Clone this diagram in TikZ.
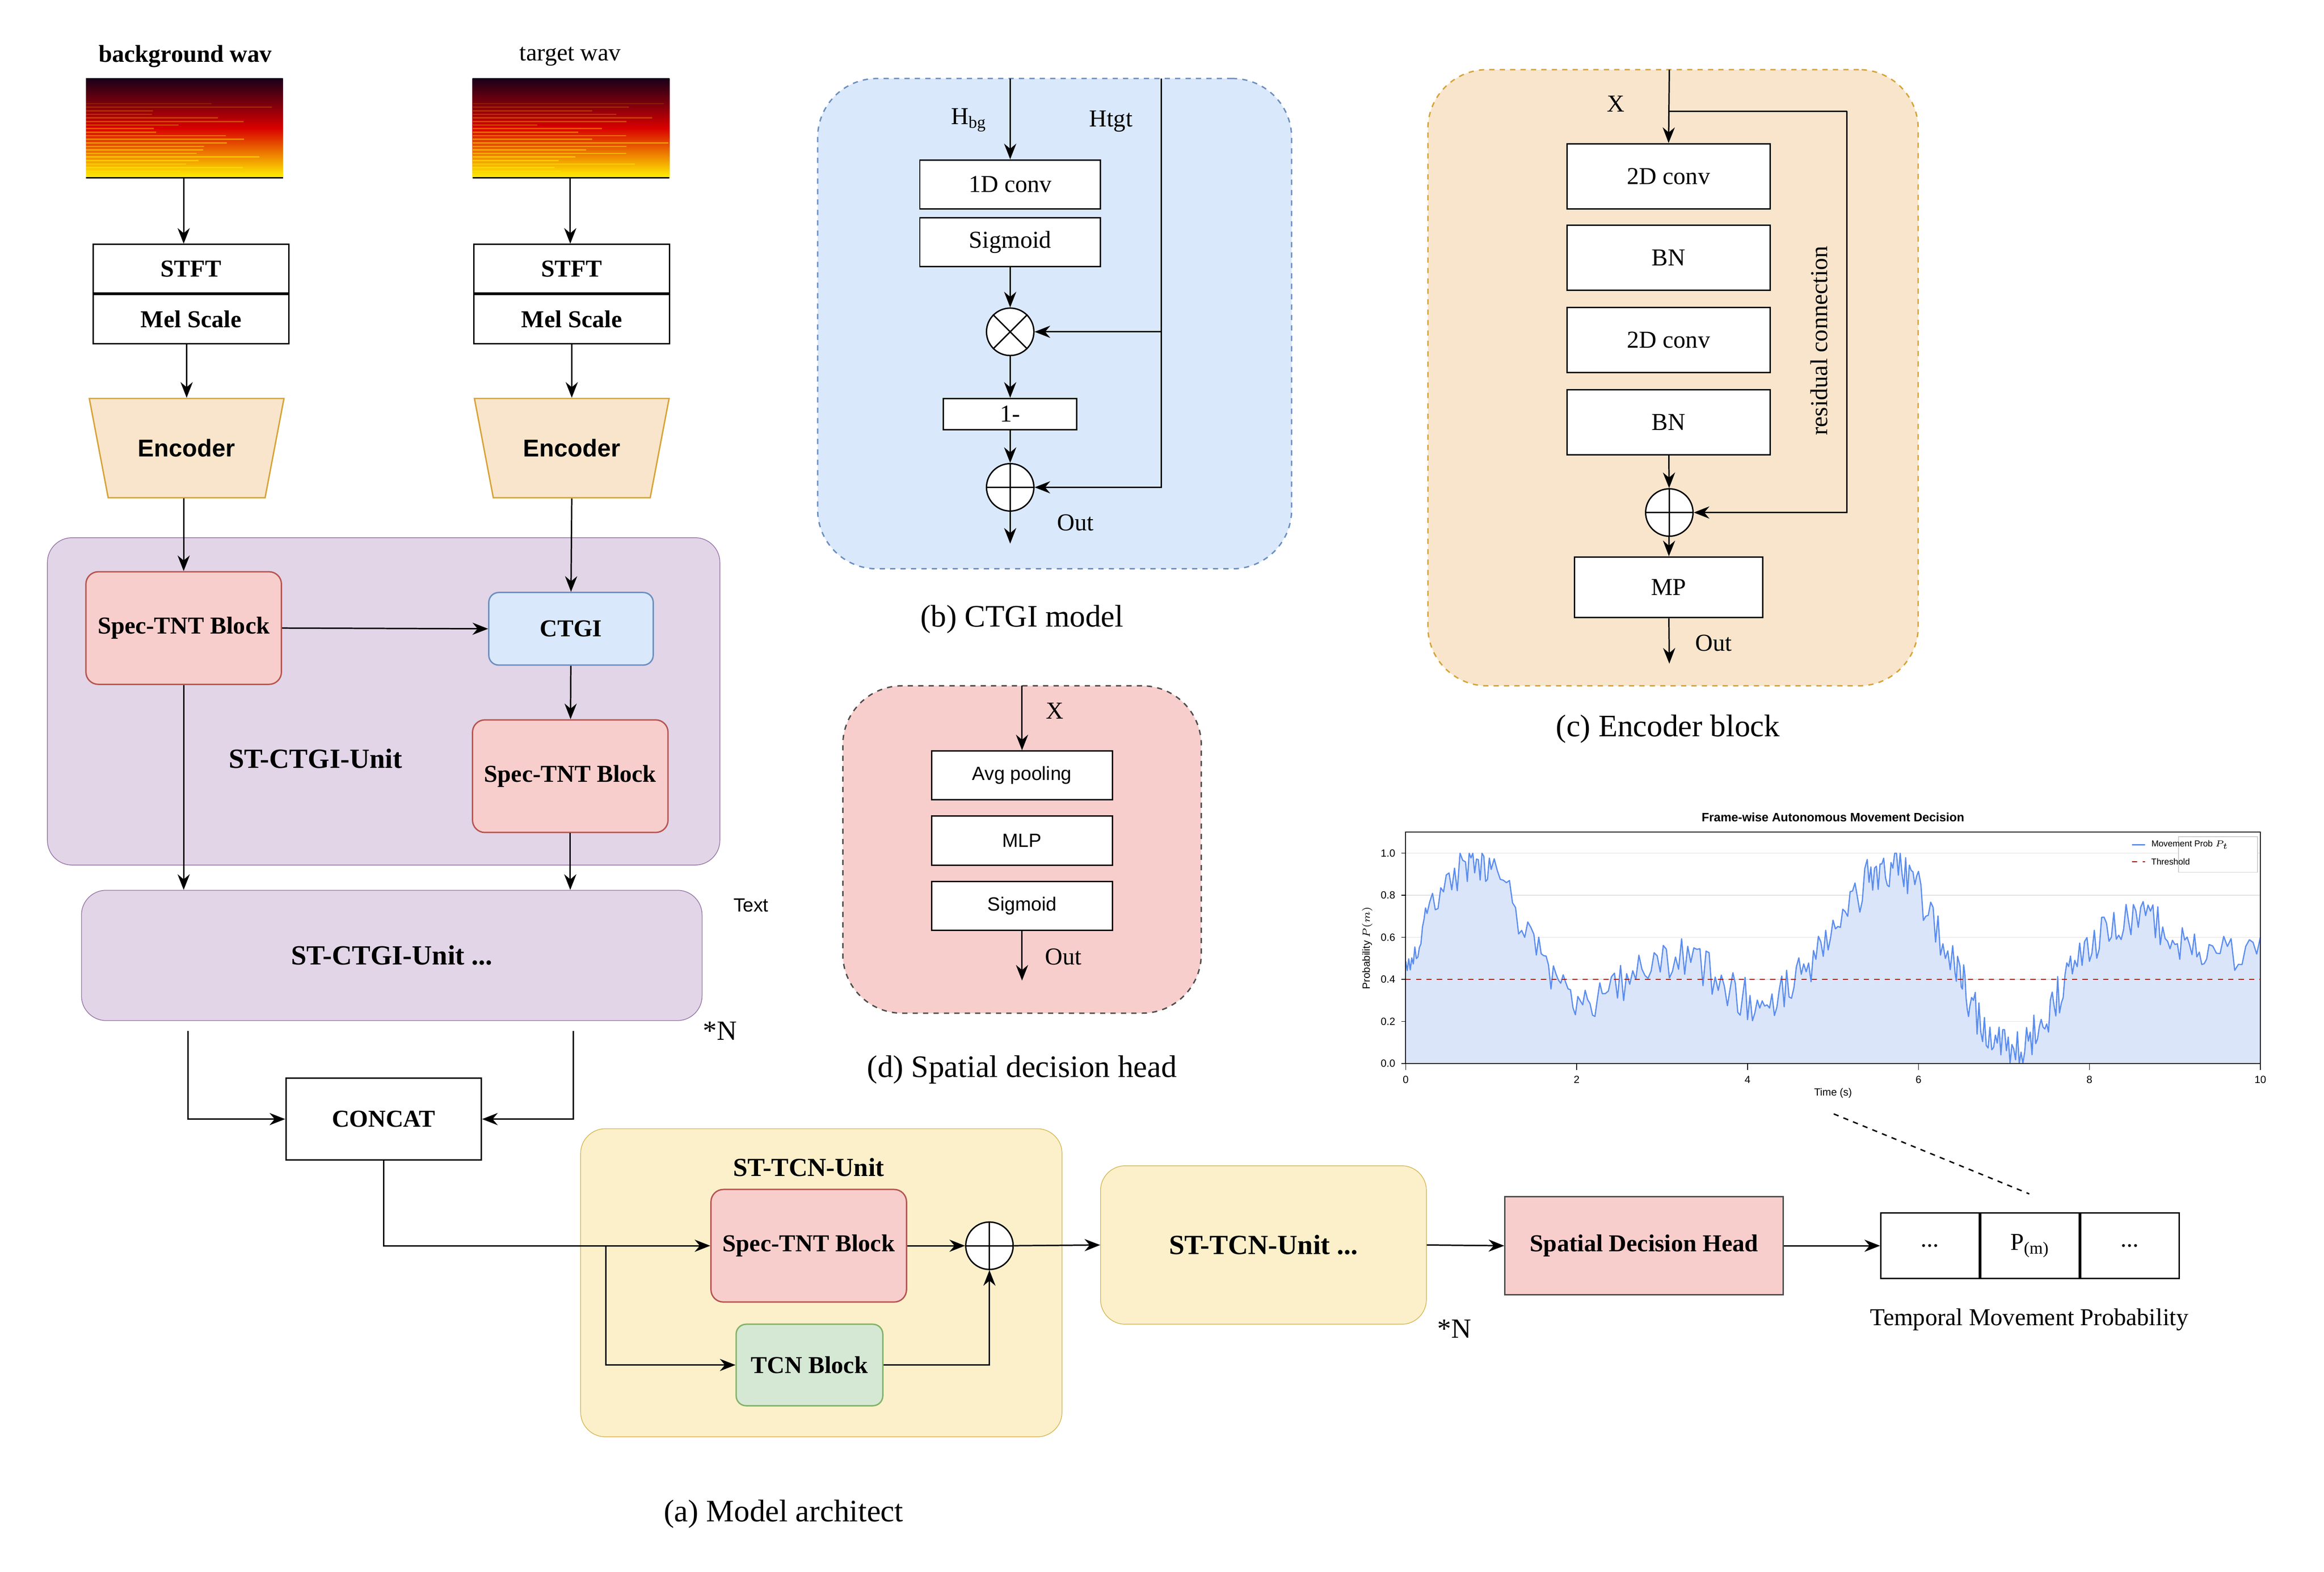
\documentclass[tikz,border=0pt]{standalone}
\usepackage{fontspec}
\setmainfont{Liberation Serif}
\newfontfamily\sansf{Liberation Sans}
\usetikzlibrary{arrows.meta,shapes.geometric}
\definecolor{purpfill}{HTML}{E1D5E7}\definecolor{purpline}{HTML}{9673A6}
\definecolor{redfill}{HTML}{F8CECC}\definecolor{redline}{HTML}{B85450}
\definecolor{bluefill}{HTML}{DAE8FC}\definecolor{blueline}{HTML}{6C8EBF}
\definecolor{orfill}{HTML}{F8E5CC}\definecolor{orline}{HTML}{D6A336}
\definecolor{yelfill}{HTML}{FBF0CA}\definecolor{yelline}{HTML}{D6B656}
\definecolor{grnfill}{HTML}{D5E8D4}\definecolor{grnline}{HTML}{82B366}
\definecolor{curve}{HTML}{5B8DEF}\definecolor{area}{HTML}{DAE5FA}
\tikzset{
  sz/.style 2 args={minimum width=#1*0.03cm, minimum height=#2*0.03cm},
  box/.style={draw, thick, fill=white, inner sep=0pt, font=\fontsize{14}{16}\selectfont},
  bbox/.style={box, font=\fontsize{14}{16}\selectfont\bfseries},
  sbox/.style={box, font=\sansf\fontsize{11}{13}\selectfont},
  unit/.style={draw, rounded corners=0.5cm, inner sep=0pt},
  panel/.style={draw, thick, dashed, rounded corners=1.2cm, inner sep=0pt},
  arr/.style={-{Stealth[length=9pt,width=7pt]}, thick},
  captxt/.style={font=\fontsize{18}{20}\selectfont},
  lab/.style={font=\fontsize{14}{16}\selectfont},
  op/.style={draw, thick, circle, fill=white, minimum size=0.96cm, inner sep=0pt},
  tick/.style={font=\sansf\fontsize{6}{7}\selectfont}
}
\begin{document}
\begin{tikzpicture}[x=0.03cm, y=-0.03cm]
\useasboundingbox (0,0) rectangle (1569,1061);

% spectrograms
\pgfmathsetseed{5}
\foreach \sx/\sn in {58/bg, 319/tg} {
  \shade[top color=black!80!violet, bottom color=yellow!90!orange, middle color=red!85!black]
    (\sx,53) rectangle ++(133,67);
  \foreach \k in {0,...,20} {
    \pgfmathsetmacro\ly{70+\k*2.4}
    \pgfmathsetmacro\lo{0.15+0.035*\k}
    \pgfmathsetmacro\lw{40+93*rnd}
    \draw[yellow!80!orange, opacity=\lo, line width=0.7pt] (\sx,\ly) -- ++(\lw,0);
  }
  \draw[thick] (\sx,120) -- ++(133,0);
  \coordinate (\sn spec) at (\sx+66,120);
}
\node[lab, font=\fontsize{14}{16}\selectfont\bfseries] (bglabel) at (125,38) {background wav};
\node[lab] (tglabel) at (385,38) {target wav};

% STFT / Mel
\node[bbox, sz={132}{33}] (stft1) at (129,181.5) {STFT};
\node[bbox, sz={132}{33}, anchor=north] (mel1) at (stft1.south) {Mel Scale};
\node[bbox, sz={132}{33}] (stft2) at (386,181.5) {STFT};
\node[bbox, sz={132}{33}, anchor=north] (mel2) at (stft2.south) {Mel Scale};

% encoders
\node[trapezium, shape border rotate=180, trapezium stretches=true, trapezium angle=66,
  draw=orline, thick, fill=orfill, sz={132}{67}, font=\sansf\fontsize{14}{16}\selectfont\bfseries] (enc1) at (126,302.5) {Encoder};
\node[trapezium, shape border rotate=180, trapezium stretches=true, trapezium angle=66,
  draw=orline, thick, fill=orfill, sz={132}{67}, font=\sansf\fontsize{14}{16}\selectfont\bfseries] (enc2) at (386,302.5) {Encoder};

\draw[arr] (bgspec) -- (bgspec |- stft1.north);
\draw[arr] (tgspec) -- (tgspec |- stft2.north);
\draw[arr] (mel1.south -| enc1) -- (enc1.north);
\draw[arr] (mel2) -- (enc2.north);

% ST-CTGI unit
\node[unit, draw=purpline, fill=purpfill, sz={454}{221}] (ctgiunit) at (259,473.5) {};
\node[lab, font=\fontsize{16}{18}\selectfont\bfseries] (ctgiunitlab) at (213,512) {ST-CTGI-Unit};
\node[bbox, draw=redline, fill=redfill, rounded corners=0.25cm, sz={132}{76}] (spec1) at (124,424) {Spec-TNT Block};
\node[box, draw=blueline, fill=bluefill, rounded corners=0.2cm, sz={111}{49}, font=\fontsize{14}{16}\selectfont\bfseries] (ctgi) at (385.5,424.5) {CTGI};
\node[bbox, draw=redline, fill=redfill, rounded corners=0.25cm, sz={132}{76}] (spec2) at (385,524) {Spec-TNT Block};
\node[unit, draw=purpline, fill=purpfill, sz={419}{88}, font=\fontsize{16}{18}\selectfont\bfseries] (ctgimore) at (264.5,645) {ST-CTGI-Unit ...};
\node[lab, font=\fontsize{16}{18}\selectfont] (n1) at (486,696) {*N};
\node[font=\sansf\fontsize{11}{13}\selectfont] (txt) at (507,611) {Text};

\draw[arr] (enc1.south -| spec1) -- (spec1.north);
\draw[arr] (enc2.south) -- (ctgi.north);
\draw[arr] (spec1.east) -- (ctgi.west);
\draw[arr] (ctgi) -- (spec2);
\draw[arr] (spec1.south) -- (spec1.south |- ctgimore.north);
\draw[arr] (spec2.south) -- (spec2.south |- ctgimore.north);

% concat
\node[bbox, sz={132}{55}, font=\fontsize{14}{16}\selectfont\bfseries] (concat) at (259,755.5) {CONCAT};
\coordinate (cl) at (127,696);
\coordinate (cr) at (387,696);
\draw[arr] (cl) |- (concat.west);
\draw[arr] (cr) |- (concat.east);

% ST-TCN unit
\node[unit, draw=yelline, fill=yelfill, sz={325}{208}] (tcnunit) at (554.5,866) {};
\node[lab, font=\fontsize{15}{17}\selectfont\bfseries] (tcnlab) at (546,788) {ST-TCN-Unit};
\node[bbox, draw=redline, fill=redfill, rounded corners=0.25cm, sz={132}{76}] (spec3) at (546,841) {Spec-TNT Block};
\node[bbox, draw=grnline, fill=grnfill, rounded corners=0.2cm, sz={99}{55}] (tcn) at (546.5,921.5) {TCN Block};
\node[op] (sum3) at (668,841) {};
\draw[thick] (sum3.north) -- (sum3.south) (sum3.west) -- (sum3.east);
\coordinate (split) at (409,841);
\draw[arr] (concat.south) |- (spec3.west);
\draw[arr] (split) |- (tcn.west);
\draw[arr] (spec3.east) -- (sum3.west);
\draw[arr] (tcn.east) -| (sum3.south);

\node[unit, draw=yelline, fill=yelfill, sz={220}{107}, font=\fontsize{16}{18}\selectfont\bfseries] (tcnmore) at (853,840.5) {ST-TCN-Unit ...};
\node[lab, font=\fontsize{16}{18}\selectfont] (n2) at (982,897) {*N};
\draw[arr] (sum3.east) -- (tcnmore.west);
\node[bbox, draw=black!70, fill=redfill, sz={188}{66}] (sdh) at (1110,841) {Spatial Decision Head};
\draw[arr] (tcnmore.east) -- (sdh.west);

\node[box, sz={66.5}{44}] (p1) at (1303,841) {...};
\node[box, sz={66.5}{44}, anchor=west] (p2) at (p1.east) {P\textsubscript{(m)}};
\node[box, sz={66.5}{44}, anchor=west] (p3) at (p2.east) {...};
\draw[arr] (sdh.east) -- (p1.west);
\node[lab] (tmp) at (1370,891) {Temporal Movement Probability};
\node[captxt] (capa) at (529,1022) {(a) Model architect};

% (b) CTGI model
\node[panel, draw=blueline, fill=bluefill, sz={320}{331}] (pb) at (712,218.5) {};
\node[box, sz={122}{33}] (conv1d) at (682,124.5) {1D conv};
\node[box, sz={122}{33}] (sigb) at (682,163.5) {Sigmoid};
\node[op] (mul) at (682,224) {};
\draw[thick] (mul.north west) -- (mul.south east) (mul.north east) -- (mul.south west);
\node[box, sz={90}{21}] (onem) at (682,279.5) {1-};
\node[op] (addb) at (682,329) {};
\draw[thick] (addb.north) -- (addb.south) (addb.west) -- (addb.east);
\coordinate (hbgin) at (682,53);
\coordinate (htgin) at (784,53);
\coordinate (outb) at (682,367);
\node[lab] (hbg) at (654,81) {H\textsubscript{bg}};
\node[lab] (htgt) at (750,82) {Htgt};
\draw[arr] (hbgin) -- (conv1d.north);
\draw[arr] (sigb) -- (mul);
\draw[arr] (mul) -- (onem);
\draw[arr] (onem) -- (addb);
\draw[arr] (addb) -- (outb);
\draw[arr] (htgin) |- (addb.east);
\draw[arr] (784,224) -- (mul.east);
\node[lab] (outbl) at (726,353) {Out};
\node[captxt] (capb) at (690,418) {(b) CTGI model};

% (c) Encoder block
\node[panel, draw=orline, fill=orfill, sz={331}{416}] (pc) at (1129.5,255) {};
\node[box, sz={137}{44}] (c1) at (1126.5,119) {2D conv};
\node[box, sz={137}{44}] (bn1) at (1126.5,174) {BN};
\node[box, sz={137}{44}] (c2) at (1126.5,229.5) {2D conv};
\node[box, sz={137}{44}] (bn2) at (1126.5,285) {BN};
\node[op] (addc) at (1127,346) {};
\draw[thick] (addc.north) -- (addc.south) (addc.west) -- (addc.east);
\node[box, sz={127}{41}] (mp) at (1126.5,396.5) {MP};
\coordinate (xin) at (1127,47);
\coordinate (res) at (1247,75);
\coordinate (outc) at (1127,448);
\node[lab] (xc) at (1091,70) {X};
\draw[arr] (xin) -- (c1.north);
\draw[thick] (1127,75) -- (res);
\draw[arr] (res) |- (addc.east);
\draw[arr] (bn2) -- (addc);
\draw[arr] (addc) -- (mp);
\draw[arr] (mp) -- (outc);
\node[lab, rotate=90] (resl) at (1228,230) {residual connection};
\node[lab] (outcl) at (1157,434) {Out};
\node[captxt] (capc) at (1126,492) {(c) Encoder block};

% (d) Spatial decision head
\node[panel, draw=black!70, fill=redfill, sz={242}{221}] (pd) at (690,573.5) {};
\node[sbox, sz={122}{33}] (avg) at (690,523.5) {Avg pooling};
\node[sbox, sz={122}{33}] (mlp) at (690,567.5) {MLP};
\node[sbox, sz={122}{33}] (sigd) at (690,611.5) {Sigmoid};
\coordinate (xdin) at (690,463);
\coordinate (outd) at (690,662);
\node[lab] (xd) at (712,480) {X};
\draw[arr] (xdin) -- (avg.north);
\draw[arr] (sigd) -- (outd);
\node[lab] (outdl) at (718,646) {Out};
\node[captxt] (capd) at (690,722) {(d) Spatial decision head};

% chart
\begin{scope}[shift={(949,718)}, x=1.731cm, y=4.26cm]
  \foreach \gy in {0.2,0.4,...,1.0} \draw[black!12, thin] (0,\gy) -- (10,\gy);
  \pgfmathsetseed{11}
  \gdef\pts{}
  \foreach \ta/\va/\tb/\vb in {0/0.42/0.25/0.68, 0.25/0.68/0.7/0.95, 0.7/0.95/1.0/0.95, 1.0/0.95/1.5/0.55,
     1.5/0.55/1.9/0.3, 1.9/0.3/2.3/0.3, 2.3/0.3/2.8/0.48, 2.8/0.48/3.3/0.52, 3.3/0.52/3.8/0.36,
     3.8/0.36/4.2/0.25, 4.2/0.25/4.6/0.42, 4.6/0.42/5.0/0.6, 5.0/0.6/5.4/0.88, 5.4/0.88/5.7/0.95,
     5.7/0.95/6.0/0.82, 6.0/0.82/6.4/0.5, 6.4/0.5/6.6/0.3, 6.6/0.3/6.9/0.08, 6.9/0.08/7.2/0.05,
     7.2/0.05/7.5/0.22, 7.5/0.22/7.8/0.45, 7.8/0.45/8.2/0.66, 8.2/0.66/8.6/0.72, 8.6/0.72/9.0/0.6,
     9.0/0.6/9.4/0.5, 9.4/0.5/10/0.57} {
    \foreach \k in {0,...,13} {
      \pgfmathsetmacro\ct{\ta+(\tb-\ta)*\k/14}
      \pgfmathsetmacro\cv{max(0,min(1,\va+(\vb-\va)*\k/14+0.1*rand))}
      \xdef\pts{\pts (\ct,\cv)}
    }
  }
  \fill[area] (0,0) -- plot coordinates {\pts} -- (10,0.6) -- (10,0) -- cycle;
  \draw[curve, line width=0.7pt, line join=round] plot coordinates {\pts} -- (10,0.6);
  \draw[red!65!black, dashed, line width=0.6pt] (0,0.4) -- (10,0.4);
  \draw[line width=0.5pt] (0,0) rectangle (10,1.1);
  \foreach \tx in {0,2,...,10} \draw (\tx,0) -- (\tx,-0.03) node[tick, below] {\tx};
  \foreach \ty in {0.0,0.2,0.4,0.6,0.8,1.0} \draw (0,\ty) -- (-0.05,\ty) node[tick, left] {\ty};
  \node[tick] (xlab) at (5,-0.14) {Time (s)};
  \node[tick, rotate=90] (ylab) at (-0.45,0.55) {Probability $P(m)$};
  \node[tick, font=\sansf\fontsize{7}{8}\selectfont\bfseries] (ctitle) at (5,1.17) {Frame-wise Autonomous Movement Decision};
  \node[draw=black!20, fill=white, minimum width=1.6cm, minimum height=0.72cm, anchor=north east] (leg) at (9.97,1.08) {};
  \draw[curve, line width=0.8pt] (8.5,1.04) -- (8.65,1.04) node[tick, right, black, font=\sansf\fontsize{5}{6}\selectfont] {Movement Prob $P_t$};
  \draw[red!65!black, dashed, line width=0.6pt] (8.5,0.96) -- (8.65,0.96) node[tick, right, black, font=\sansf\fontsize{5}{6}\selectfont] {Threshold};
\end{scope}
\coordinate (dashA) at (1238,752);
\coordinate (dashB) at (1370,806);
\draw[dashed, thick] (dashA) -- (dashB);
\end{tikzpicture}
\end{document}
